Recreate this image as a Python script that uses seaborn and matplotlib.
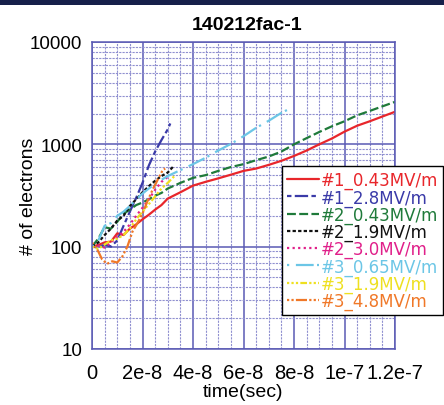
import numpy as np
import pandas as pd
import matplotlib
matplotlib.use("Agg")
import matplotlib.pyplot as plt
from matplotlib.patches import Rectangle
from matplotlib.ticker import FixedLocator, NullFormatter
import seaborn as sns

# ---- data: electron count vs. time (time in units of 1e-8 s) ----
t_1_043 = [0, 0.25, 0.5, 0.75, 1.0, 1.25, 1.5, 1.75, 2.0, 2.25, 2.5, 2.75, 3.0, 3.5, 4.0, 4.5,
           5.0, 5.5, 6.0, 6.5, 7.0, 7.5, 8.0, 8.5, 9.0, 9.5, 10.0, 10.5, 11.0, 11.5, 12.0]
n_1_043 = [100, 104, 110, 112, 135, 130, 150, 165, 185, 205, 230, 255, 295, 340, 395, 430,
           465, 505, 550, 580, 630, 690, 770, 870, 1000, 1140, 1330, 1520, 1680, 1870, 2080]

t_1_28 = [0, 0.25, 0.5, 0.75, 1.0, 1.25, 1.5, 1.75, 2.0, 2.25, 2.5, 2.75, 3.0, 3.1]
n_1_28 = [100, 98, 105, 100, 115, 160, 220, 300, 420, 620, 850, 1100, 1400, 1600]

t_2_043 = [0, 0.25, 0.5, 0.75, 1.0, 1.25, 1.5, 1.75, 2.0, 2.25, 2.5, 2.75, 3.0, 3.5, 4.0, 4.5,
           5.0, 5.5, 6.0, 6.5, 7.0, 7.5, 8.0, 8.5, 9.0, 9.5, 10.0, 10.5, 11.0, 11.5, 12.0]
n_2_043 = [100, 120, 155, 150, 175, 210, 230, 255, 270, 290, 315, 335, 370, 420, 470, 500,
           550, 600, 640, 700, 760, 850, 1000, 1150, 1320, 1500, 1680, 1920, 2120, 2350, 2600]

t_2_19 = [0, 0.25, 0.5, 0.75, 1.0, 1.25, 1.5, 1.75, 2.0, 2.25, 2.5, 2.75, 3.0, 3.2]
n_2_19 = [100, 110, 130, 150, 180, 200, 250, 290, 340, 390, 440, 490, 530, 600]

t_2_30 = [0, 0.25, 0.5, 0.75, 1.0, 1.25, 1.5, 1.75, 2.0, 2.25, 2.5, 2.75, 3.0]
n_2_30 = [100, 102, 98, 110, 125, 140, 165, 200, 240, 290, 360, 430, 480]

t_3_065 = [0, 0.25, 0.5, 0.75, 1.0, 1.25, 1.5, 1.75, 2.0, 2.25, 2.5, 2.75, 3.0, 3.5, 4.0,
           4.5, 5.0, 5.5, 6.0, 6.5, 7.0, 7.5, 7.75]
n_3_065 = [100, 115, 160, 170, 200, 220, 250, 290, 330, 370, 410, 450, 490, 560, 640,
           740, 870, 1010, 1200, 1450, 1700, 2030, 2180]

t_3_19 = [0, 0.25, 0.5, 0.75, 1.0, 1.25, 1.5, 1.75, 2.0, 2.25, 2.5, 2.75, 3.0, 3.3]
n_3_19 = [100, 95, 105, 115, 120, 130, 150, 185, 220, 260, 310, 370, 420, 500]

t_3_48 = [0, 0.2, 0.4, 0.6, 0.8, 1.0, 1.2, 1.4, 1.6, 1.8, 2.0, 2.2, 2.4, 2.6, 2.8, 2.9]
n_3_48 = [110, 95, 75, 68, 72, 70, 80, 100, 140, 170, 210, 280, 360, 450, 560, 580]

labels = ["#1_0.43MV/m", "#1_2.8MV/m", "#2_0.43MV/m", "#2_1.9MV/m",
          "#2_3.0MV/m", "#3_0.65MV/m", "#3_1.9MV/m", "#3_4.8MV/m"]
times = [t_1_043, t_1_28, t_2_043, t_2_19, t_2_30, t_3_065, t_3_19, t_3_48]
counts = [n_1_043, n_1_28, n_2_043, n_2_19, n_2_30, n_3_065, n_3_19, n_3_48]

colors = ["#e8262b", "#3a3aa8", "#1f7a3a", "#111111",
          "#e0208a", "#6cc6e6", "#eee020", "#f07828"]
styles = ["-", (0, (2, 1.5, 6, 1.5)), (0, (4, 1.5)), (0, (1.5, 1)),
          (0, (1, 1.5)), (0, (1, 3, 8, 1.5)), (0, (1, 1, 1, 1, 1, 1, 3, 1)),
          (0, (1, 1, 1, 1, 5, 1))]

x_ticks = [0, 2e-8, 4e-8, 6e-8, 8e-8, 1e-7, 1.2e-7]
x_tick_labels = ["0", "2e-8", "4e-8", "6e-8", "8e-8", "1e-7", "1.2e-7"]
y_ticks = [10, 100, 1000, 10000]
y_tick_labels = ["10", "100", "1000", "10000"]

frames = []
for lab, t, n in zip(labels, times, counts):
    frames.append(pd.DataFrame({"time": np.array(t) * 1e-8, "electrons": n, "run": lab}))
df = pd.concat(frames, ignore_index=True)

sns.set_theme(style="white")
plt.rcParams["font.family"] = ["Liberation Sans", "DejaVu Sans"]

fig = plt.figure(figsize=(4.44, 4.06), dpi=100)
fig.patches.append(Rectangle((0, 1 - 6 / 406), 1, 6 / 406, transform=fig.transFigure,
                             facecolor="#16204a", edgecolor="none", zorder=0))
ax = fig.add_axes([92 / 444, 1 - 350 / 406, 303 / 444, 307 / 406])

for lab, col, ls in zip(labels, colors, styles):
    sub = df[df["run"] == lab]
    sns.lineplot(data=sub, x="time", y="electrons", ax=ax, color=col, linestyle=ls,
                 linewidth=1.6, label=lab, estimator=None, sort=False)

ax.set_yscale("log")
ax.set_xlim(0, 1.2e-7)
ax.set_ylim(10, 10000)

grid_major = "#5a5ab4"
grid_minor = "#9090d0"
ax.xaxis.set_major_locator(FixedLocator(x_ticks))
ax.xaxis.set_minor_locator(FixedLocator(np.arange(0, 1.2e-7 + 1e-12, 5e-9)))
ax.set_xticklabels(x_tick_labels)
ax.yaxis.set_major_locator(FixedLocator(y_ticks))
ax.yaxis.set_minor_locator(FixedLocator([m * 10 ** e for e in range(1, 4) for m in range(2, 10)]))
ax.yaxis.set_minor_formatter(NullFormatter())
ax.set_yticklabels(y_tick_labels)
ax.grid(True, which="major", color=grid_major, linewidth=1.1, linestyle="-")
ax.grid(True, which="minor", color=grid_minor, linewidth=0.8, linestyle=(0, (2, 1)))
ax.set_axisbelow(True)
for s in ax.spines.values():
    s.set_color(grid_major)
    s.set_linewidth(1.1)
ax.tick_params(axis="both", which="both", length=0, colors="black")
ax.tick_params(axis="x", pad=10, labelsize=14.5)
ax.tick_params(axis="y", pad=7, labelsize=13.5)

ax.set_xlabel("time(sec)", fontsize=14, color="black")
ax.xaxis.set_label_coords((243 - 92) / 303, -0.112)
ax.set_ylabel("# of electrons", fontsize=14, color="black")
ax.yaxis.set_label_coords(-0.18, 0.5)
fig.text(247 / 444, 1 - 25 / 406, "140212fac-1", ha="center", va="center",
         fontsize=14, fontweight="bold", color="black")

leg = ax.legend(loc="upper left", bbox_to_anchor=(282 / 444, 1 - 167 / 406),
                bbox_transform=fig.transFigure, frameon=True,
                prop={"family": "DejaVu Sans", "size": 12},
                fancybox=False, edgecolor="black", framealpha=1, handlelength=1.9,
                handletextpad=0.12, labelspacing=-0.06, borderpad=0.3, borderaxespad=0)
leg.get_frame().set_linewidth(1.0)
for txt, line in zip(leg.get_texts(), leg.get_lines()):
    txt.set_color(line.get_color())

fig.savefig("out.png", dpi=100)
